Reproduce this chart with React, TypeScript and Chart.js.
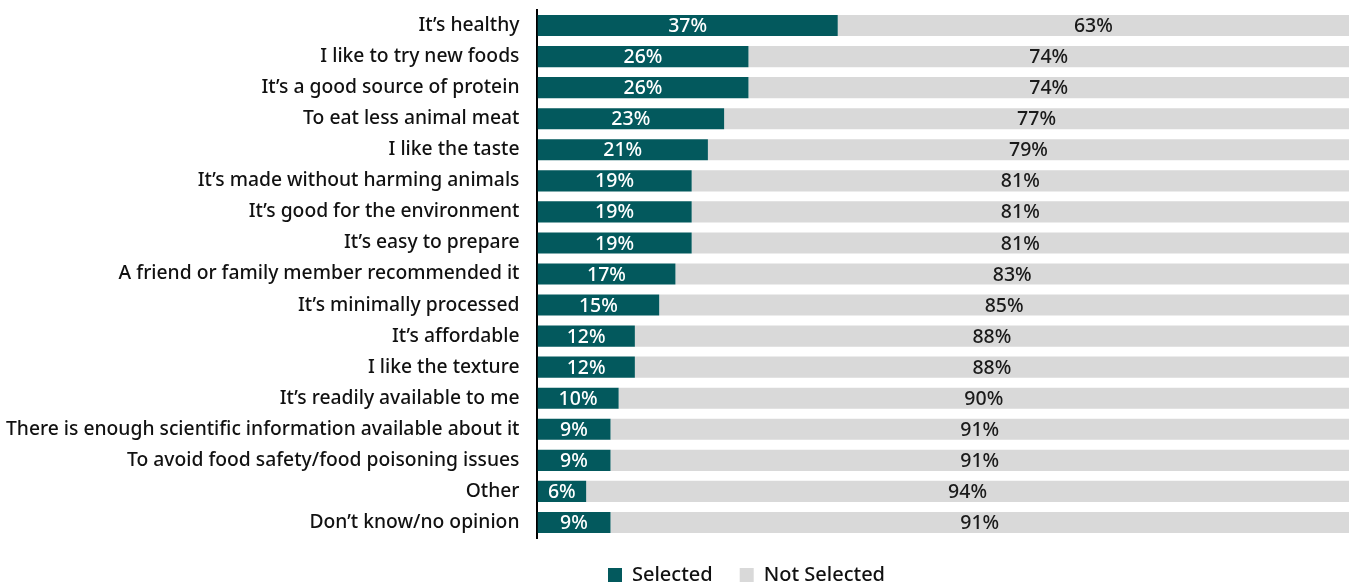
import React, { useEffect, useRef } from "react";
import { Chart, registerables } from "chart.js";

Chart.register(...registerables);

const categories = [
  "It’s healthy",
  "I like to try new foods",
  "It’s a good source of protein",
  "To eat less animal meat",
  "I like the taste",
  "It’s made without harming animals",
  "It’s good for the environment",
  "It’s easy to prepare",
  "A friend or family member recommended it",
  "It’s minimally processed",
  "It’s affordable",
  "I like the texture",
  "It’s readily available to me",
  "There is enough scientific information available about it",
  "To avoid food safety/food poisoning issues",
  "Other",
  "Don’t know/no opinion",
];

const selected = [37, 26, 26, 23, 21, 19, 19, 19, 17, 15, 12, 12, 10, 9, 9, 6, 9];
const notSelected = [63, 74, 74, 77, 79, 81, 81, 81, 83, 85, 88, 88, 90, 91, 91, 94, 91];

const TEAL = "#03595D";
const GRAY = "#D9D9D9";
const FONT = "'Noto Sans', sans-serif";

const labelPlugin = {
  id: "barLabels",
  afterDatasetsDraw(chart: any) {
    const ctx = chart.ctx;
    ctx.save();
    ctx.font = `500 19.5px ${FONT}`;
    ctx.textAlign = "center";
    ctx.textBaseline = "middle";
    chart.data.datasets.forEach((ds: any, di: number) => {
      const meta = chart.getDatasetMeta(di);
      meta.data.forEach((bar: any, i: number) => {
        const x = (bar.x + bar.base) / 2;
        ctx.fillStyle = di === 0 ? "#ffffff" : "#1a1a1a";
        ctx.fillText(ds.data[i] + "%", x, bar.y + 1);
      });
    });
    ctx.restore();
  },
};

const legendShift = {
  id: "legendShift",
  afterLayout(chart: any) {
    const lg = chart.legend;
    if (lg) {
      lg.left += 78;
      lg.right += 78;
    }
  },
};

export default function App() {
  const ref = useRef<HTMLCanvasElement>(null);
  useEffect(() => {
    document.body.style.margin = "0";
    const chart = new Chart(ref.current!, {
      type: "bar",
      data: {
        labels: categories,
        datasets: [
          { label: "Selected", data: selected, backgroundColor: TEAL, barPercentage: 0.68, categoryPercentage: 1 },
          { label: "Not Selected", data: notSelected, backgroundColor: GRAY, barPercentage: 0.68, categoryPercentage: 1 },
        ],
      },
      options: {
        indexAxis: "y",
        animation: false,
        responsive: true,
        maintainAspectRatio: false,
        layout: { padding: { top: 10, right: 2, left: -12, bottom: -12 } },
        scales: {
          x: { stacked: true, min: 0, max: 100, display: false },
          y: {
            stacked: true,
            grid: { display: false, drawTicks: false },
            border: { display: true, color: "#000000", width: 2 },
            ticks: { color: "#111111", font: { family: FONT, size: 19.3, weight: "500" }, padding: 18 },
            afterFit(scale: any) {
              scale.paddingTop = 0;
              scale.paddingBottom = 0;
            },
          },
        },
        plugins: {
          legend: {
            position: "bottom",
            labels: {
              boxWidth: 14,
              boxHeight: 14,
              color: "#111111",
              font: { family: FONT, size: 20, weight: "500" },
              padding: 27,
            },
          },
          tooltip: { enabled: false },
        },
      },
      plugins: [labelPlugin, legendShift],
    });
    return () => chart.destroy();
  }, []);
  return (
    <div style={{ width: 1351, height: 583, position: "relative" }}>
      <canvas ref={ref} />
    </div>
  );
}
